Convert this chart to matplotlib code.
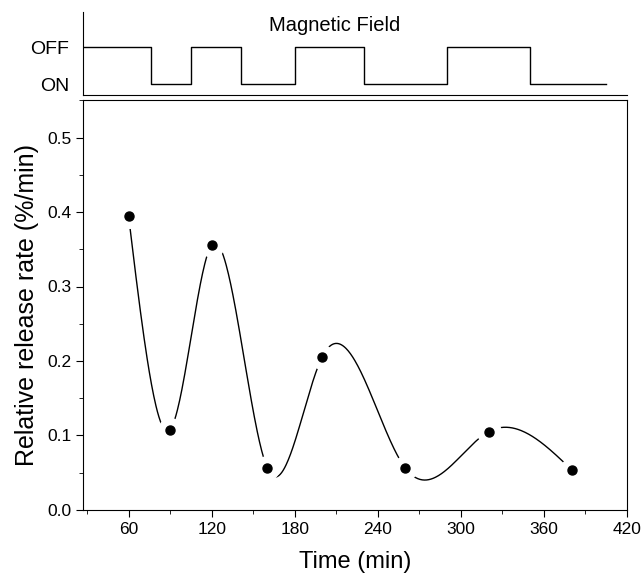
import numpy as np
import matplotlib
matplotlib.use("Agg")
import matplotlib.pyplot as plt
from matplotlib.ticker import MultipleLocator

plt.rcParams['font.family'] = ['Liberation Sans', 'DejaVu Sans']

# release rate data
time_min = [60, 90, 120, 160, 200, 260, 320, 380]
release_rate = [0.394, 0.108, 0.356, 0.057, 0.206, 0.056, 0.105, 0.054]

# magnetic field switching (1 = OFF, 0 = ON)
field_times = [27, 76, 105, 141, 180, 230, 290, 350, 405]
field_state = [1, 0, 1, 0, 1, 0, 1, 0, 0]
field_labels = ["ON", "OFF"]


def natural_spline(x, y, xs):
    x = np.asarray(x, float)
    y = np.asarray(y, float)
    n = len(x)
    h = np.diff(x)
    A = np.zeros((n, n))
    b = np.zeros(n)
    A[0, 0] = A[-1, -1] = 1.0
    for i in range(1, n - 1):
        A[i, i - 1] = h[i - 1]
        A[i, i] = 2 * (h[i - 1] + h[i])
        A[i, i + 1] = h[i]
        b[i] = 6 * ((y[i + 1] - y[i]) / h[i] - (y[i] - y[i - 1]) / h[i - 1])
    M = np.linalg.solve(A, b)
    idx = np.clip(np.searchsorted(x, xs) - 1, 0, n - 2)
    x0, x1 = x[idx], x[idx + 1]
    hh = x1 - x0
    t0, t1 = x1 - xs, xs - x0
    return (M[idx] * t0**3 / (6 * hh) + M[idx + 1] * t1**3 / (6 * hh)
            + (y[idx] / hh - M[idx] * hh / 6) * t0
            + (y[idx + 1] / hh - M[idx + 1] * hh / 6) * t1)


fig = plt.figure(figsize=(6.43, 5.73), dpi=100)

# top panel: field on/off
ax_top = fig.add_axes([0.129, 0.834, 0.846, 0.145])
ax_top.step(field_times, field_state, where="post", color="black", lw=1)
ax_top.set_xlim(27, 420)
ax_top.set_ylim(-0.3, 1.95)
ax_top.set_yticks([0, 1])
ax_top.set_yticklabels(field_labels, fontsize=14)
ax_top.tick_params(axis="y", length=0, pad=10)
ax_top.set_xticks([])
for s in ["top", "right"]:
    ax_top.spines[s].set_visible(False)
ax_top.text(0.463, 0.84, "Magnetic Field", transform=ax_top.transAxes,
            ha="center", va="center", fontsize=14.5)

# main panel
ax = fig.add_axes([0.129, 0.110, 0.846, 0.715])
xs = np.linspace(time_min[0], time_min[-1], 600)
ax.plot(xs, natural_spline(time_min, release_rate, xs), color="black", lw=1, zorder=2)
ax.plot(time_min, release_rate, "o", ms=17, color="white", mec="white", zorder=3)
ax.plot(time_min, release_rate, "o", ms=6.5, color="black", zorder=4)

ax.set_xlim(27, 420)
ax.set_ylim(0, 0.55)
ax.xaxis.set_major_locator(MultipleLocator(60))
ax.xaxis.set_minor_locator(MultipleLocator(30))
ax.yaxis.set_major_locator(MultipleLocator(0.1))
ax.yaxis.set_minor_locator(MultipleLocator(0.05))
ax.yaxis.set_major_formatter(matplotlib.ticker.FormatStrFormatter("%.1f"))
ax.tick_params(which="major", direction="out", length=5, labelsize=12.5)
ax.tick_params(which="minor", direction="out", length=3)
ax.set_xlabel("Time (min)", fontsize=17, labelpad=10)
ax.set_ylabel("Relative release rate (%/min)", fontsize=18, labelpad=6)

fig.savefig("out.png", dpi=100)
